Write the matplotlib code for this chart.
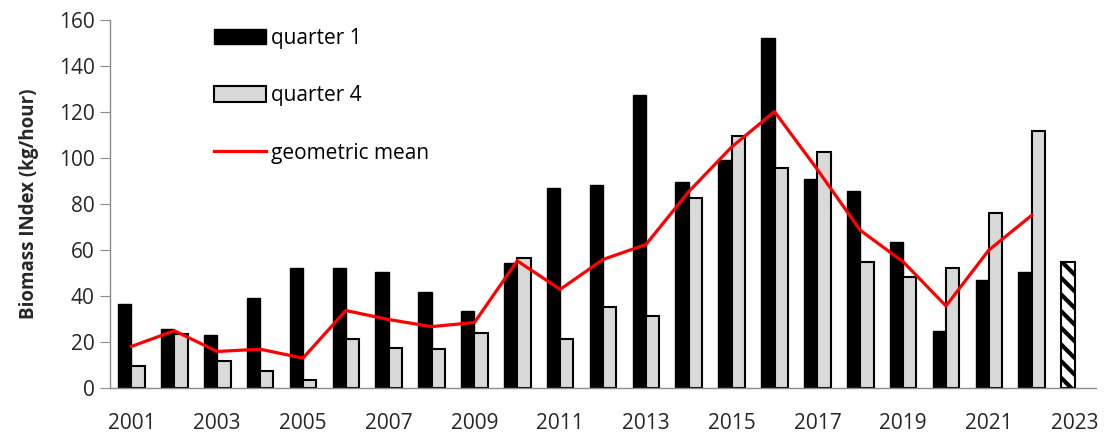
import numpy as np
import matplotlib.pyplot as plt

years = list(range(2001, 2024))
quarter1 = [36.6, 25.7, 23.1, 39.3, 52.3, 52.3, 50.6, 41.8, 33.5, 54.2,
            87.0, 88.2, 127.2, 89.6, 99.0, 152.0, 90.8, 85.5, 63.6, 24.6,
            47.0, 50.6]
quarter4 = [9.4, 23.6, 11.6, 7.2, 3.6, 21.2, 17.6, 17.1, 23.8, 56.6,
            21.2, 35.4, 31.4, 82.8, 109.8, 95.7, 102.5, 54.6, 48.4, 52.0,
            75.9, 111.7]
geo_mean = [18.1, 24.9, 15.9, 16.9, 13.0, 33.7, 29.8, 26.7, 28.5, 55.3,
            42.9, 55.9, 62.4, 85.4, 104.8, 120.2, 95.0, 68.6, 54.9, 35.7,
            60.0, 75.1]
q1_2023 = 54.9

plt.rcParams['font.family'] = ['Open Sans', 'DejaVu Sans']
plt.rcParams['hatch.linewidth'] = 3.0

fig = plt.figure(figsize=(11.06, 4.36), dpi=100)
ax = fig.add_axes([0.0995, 0.110, 0.8915, 0.844])

x = np.arange(len(years))
n = len(quarter1)
w = 0.31

b1 = ax.bar(x[:n] - w / 2, quarter1, width=w, color='black', edgecolor='black',
            linewidth=1.0, label='quarter 1', zorder=2)
b4 = ax.bar(x[:n] + w / 2, quarter4, width=w, color='#d9d9d9', edgecolor='black',
            linewidth=1.5, label='quarter 4', zorder=2)
ax.bar(x[n] - w / 2, q1_2023, width=w, color='white', edgecolor='black',
       linewidth=1.5, hatch='\\\\', zorder=2)
gm, = ax.plot(x[:n], geo_mean, color='#ff0000', linewidth=2.3,
              label='geometric mean', zorder=3)

ax.set_xlim(-0.5, len(years) - 0.5)
ax.set_ylim(0, 160)
ax.set_yticks(range(0, 161, 20))
ax.set_xticks(x[::2])
ax.set_xticklabels([str(y) for y in years[::2]])

for side in ['top', 'right']:
    ax.spines[side].set_visible(False)
for side in ['left', 'bottom']:
    ax.spines[side].set_color('#8c8c8c')
    ax.spines[side].set_linewidth(1.0)

ax.tick_params(axis='y', length=7, color='#8c8c8c', labelsize=15,
               labelcolor='#262626', pad=4)
ax.tick_params(axis='x', length=0, labelsize=15, labelcolor='#262626', pad=18)

ax.set_ylabel('Biomass INdex (kg/hour)', fontsize=13.5, fontweight='bold',
              color='#262626', labelpad=14)

ax.legend(handles=[b1, b4, gm], loc='upper left', bbox_to_anchor=(0.086, 1.03),
          frameon=False, fontsize=15, handlelength=2.5, handleheight=0.75,
          labelspacing=1.75, handletextpad=0.25)

fig.savefig('out.png', dpi=100)
